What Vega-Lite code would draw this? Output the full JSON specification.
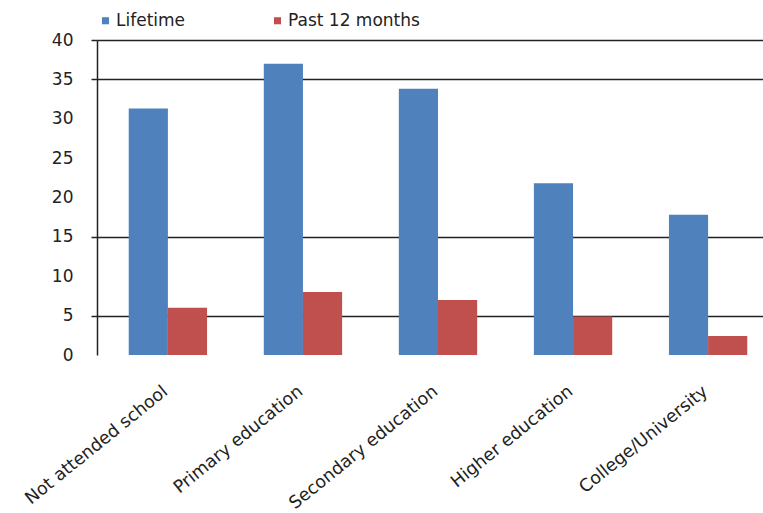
{
  "$schema": "https://vega.github.io/schema/vega-lite/v6.json",
  "width": 682,
  "height": 315,
  "autosize": "none",
  "padding": {"left": 97, "top": 40, "right": 0, "bottom": 158},
  "background": "white",
  "data": {
    "values": [
      {"level": "Not attended school", "period": "Lifetime", "value": 31.3},
      {"level": "Not attended school", "period": "Past 12 months", "value": 6.0},
      {"level": "Primary education", "period": "Lifetime", "value": 37.0},
      {"level": "Primary education", "period": "Past 12 months", "value": 8.0},
      {"level": "Secondary education", "period": "Lifetime", "value": 33.8},
      {"level": "Secondary education", "period": "Past 12 months", "value": 7.0},
      {"level": "Higher education", "period": "Lifetime", "value": 21.8},
      {"level": "Higher education", "period": "Past 12 months", "value": 4.9},
      {"level": "College/University", "period": "Lifetime", "value": 17.8},
      {"level": "College/University", "period": "Past 12 months", "value": 2.4}
    ]
  },
  "mark": {"type": "bar"},
  "encoding": {
    "x": {
      "field": "level",
      "type": "nominal",
      "sort": null,
      "title": null,
      "scale": {"paddingInner": 0.42, "paddingOuter": 0.235},
      "axis": {
        "domain": false,
        "ticks": false,
        "labelAngle": -39,
        "labelFont": "DejaVu Sans",
        "labelFontSize": 17.5,
        "labelColor": "#222",
        "labelPadding": 27,
        "labelOffset": -8,
        "labelLimit": 300
      }
    },
    "xOffset": {"field": "period", "type": "nominal", "scale": {"paddingInner": 0, "paddingOuter": 0}},
    "y": {
      "field": "value",
      "type": "quantitative",
      "title": null,
      "scale": {"domain": [0, 40], "nice": false},
      "axis": {
        "values": [0, 5, 10, 15, 20, 25, 30, 35, 40],
        "grid": true,
        "gridColor": {"condition": {"test": "datum.value == 5 || datum.value == 15 || datum.value == 35 || datum.value == 40", "value": "#222"}, "value": "transparent"},
        "gridWidth": 1.5,
        "gridOpacity": 1,
        "tickColor": {"condition": {"test": "datum.value == 5 || datum.value == 15 || datum.value == 35 || datum.value == 40", "value": "#222"}, "value": "transparent"},
        "tickSize": 6,
        "tickWidth": 1.5,
        "domainColor": "#222",
        "domainWidth": 1.5,
        "labelFont": "DejaVu Sans",
        "labelFontSize": 17,
        "labelColor": "#222",
        "labelPadding": 18
      }
    },
    "color": {
      "field": "period",
      "type": "nominal",
      "scale": {"domain": ["Lifetime", "Past 12 months"], "range": ["#4F81BD", "#C0504D"]},
      "legend": {
        "title": null,
        "orient": "none",
        "legendX": 0,
        "legendY": -28,
        "direction": "horizontal",
        "symbolType": "square",
        "symbolSize": 50,
        "symbolOpacity": 1,
        "labelFont": "DejaVu Sans",
        "labelFontSize": 17,
        "labelColor": "#222",
        "columnPadding": 83,
        "labelOffset": 2
      }
    }
  },
  "config": {"view": {"stroke": null}}
}
